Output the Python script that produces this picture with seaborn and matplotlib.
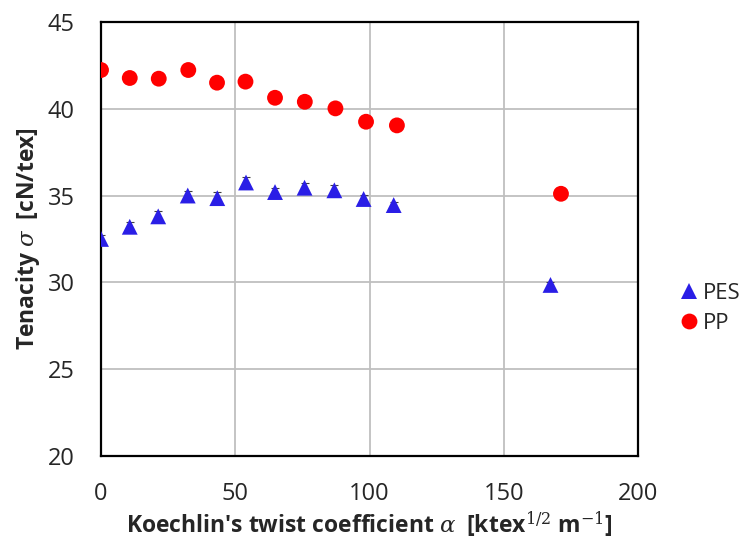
import matplotlib
matplotlib.use('Agg')
import matplotlib.pyplot as plt
import seaborn as sns
import pandas as pd

# Valores
alpha_pes = [0, 10.7, 21.3, 32.3, 43.3, 54.0, 64.8, 75.8, 86.9, 97.8, 109.0, 167.4]
sigma_pes = [32.5, 33.2, 33.8, 35.0, 34.85, 35.75, 35.2, 35.45, 35.3, 34.8, 34.45, 29.85]
err_pes = [0.2, 0.3, 0.3, 0.25, 0.35, 0.3, 0.25, 0.3, 0.3, 0.25, 0.2, 0.15]

alpha_pp = [0, 10.7, 21.5, 32.5, 43.2, 53.8, 64.8, 75.9, 87.3, 98.7, 110.2, 171.3]
sigma_pp = [42.23, 41.77, 41.73, 42.23, 41.5, 41.56, 40.63, 40.4, 40.02, 39.25, 39.04, 35.1]

df = pd.concat([
    pd.DataFrame({'alpha': alpha_pes, 'sigma': sigma_pes, 'fibra': 'PES'}),
    pd.DataFrame({'alpha': alpha_pp, 'sigma': sigma_pp, 'fibra': 'PP'}),
])

sns.set_style('white')
plt.rcParams['font.family'] = ['Open Sans', 'DejaVu Sans']
plt.rcParams['mathtext.fontset'] = 'dejavuserif'

fig = plt.figure(figsize=(7.5, 5.48), dpi=100)
ax = fig.add_axes([0.1347, 0.168, 0.716, 0.792])

ax.errorbar(alpha_pes, sigma_pes, yerr=err_pes, fmt='none', ecolor='#404040',
            elinewidth=0.8, capsize=3, capthick=0.8, zorder=2)
sns.scatterplot(data=df, x='alpha', y='sigma', hue='fibra', style='fibra',
                markers={'PES': '^', 'PP': 'o'},
                palette={'PES': '#2a1ee6', 'PP': '#ff0000'},
                s=130, linewidth=0, ax=ax, zorder=3, legend=True)

ax.set_xlim(0, 200)
ax.set_ylim(20, 45)
ax.set_xticks([0, 50, 100, 150, 200])
ax.set_yticks([20, 25, 30, 35, 40, 45])
ax.grid(True, color='#bfbfbf', linewidth=1.3)
ax.set_axisbelow(True)
for sp in ax.spines.values():
    sp.set_color('black')
    sp.set_linewidth(1.6)
ax.tick_params(axis='both', labelsize=17, length=0, pad=19)

ax.set_xlabel(r"Koechlin's twist coefficient $\alpha$  [ktex$^{1/2}$ m$^{-1}$]",
              fontsize=16.5, fontweight='bold', labelpad=2)
ax.set_ylabel(r"Tenacity $\sigma$  [cN/tex]", fontsize=16.5, fontweight='bold', labelpad=4)

handles, labels = ax.get_legend_handles_labels()
ax.legend_.remove()
fig.legend(handles, labels, loc='center left', bbox_to_anchor=(0.91, 0.437),
           frameon=False, fontsize=16, handletextpad=0.3, handlelength=0.6,
           labelspacing=0.4, borderpad=0, borderaxespad=0, markerscale=1.0)

plt.savefig('out.png', dpi=100)
plt.close()
